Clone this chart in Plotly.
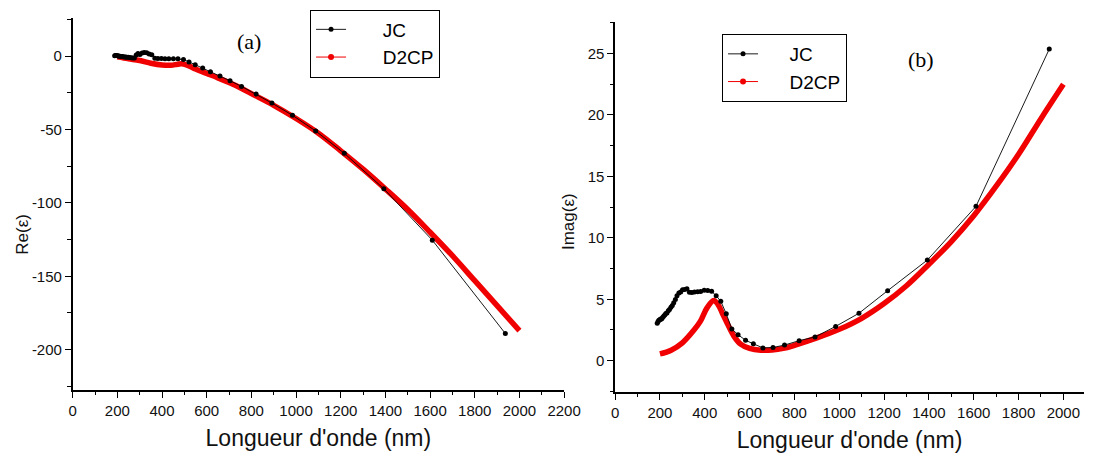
import plotly.graph_objects as go

# ---- data ----
jc_wl = [187.9, 191.6, 195.3, 199.3, 203.3, 207.3, 211.9, 216.4, 221.4, 226.2, 231.4, 237.1,
         242.6, 249.0, 255.1, 261.6, 268.9, 276.1, 284.4, 292.4, 300.9, 310.7, 320.4, 331.5,
         342.5, 354.2, 367.9, 381.5, 397.4, 413.3, 430.5, 450.9, 471.4, 495.9, 520.9, 548.6,
         582.1, 616.8, 659.5, 704.5, 756.0, 821.1, 892.0, 984.0, 1088, 1216, 1393, 1610, 1937]
jc_re = [0.3, 0.4, 0.4, 0.3, 0.2, 0.0, -0.1, -0.2, -0.3, -0.4, -0.5, -0.6,
         -0.7, -0.8, -1.0, -1.1, -1.2, -1.3, 0.8, 1.8, 1.2, 2.2, 2.5, 2.3,
         1.5, 1.0, -1.4, -1.6, -1.6, -1.7, -1.7, -1.8, -1.7, -2.3, -3.9, -5.8,
         -8.1, -10.7, -13.6, -16.8, -20.6, -25.8, -32.0, -40.3, -51.0, -66.2, -90.4, -125.4, -189.0]
jc_im = [3.04, 3.18, 3.29, 3.33, 3.40, 3.39, 3.51, 3.61, 3.71, 3.83, 3.89, 4.06,
         4.16, 4.34, 4.49, 4.72, 4.98, 5.28, 5.50, 5.60, 5.78, 5.79, 5.85, 5.57,
         5.54, 5.60, 5.61, 5.64, 5.74, 5.72, 5.65, 5.28, 4.84, 3.81, 2.58, 2.11,
         1.66, 1.37, 1.04, 1.07, 1.27, 1.63, 1.93, 2.79, 3.86, 5.70, 8.19, 12.56, 25.36]

d2_wl_re = [200, 250, 300, 350, 400, 440, 470, 490, 520, 550, 600, 650, 700, 750, 800,
            900, 1000, 1100, 1200, 1300, 1400, 1500, 1600, 1700, 1800, 1900, 2000]
d2_re = [-0.5, -1.8, -3.0, -4.8, -6.0, -6.2, -5.5, -5.2, -6.6, -8.8, -11.8, -14.8, -18.0, -21.5, -25.5,
         -33.5, -42.5, -52.5, -64.5, -77.0, -90.5, -104.5, -120.0, -136.0, -153.0, -170.0, -187.0]

d2_wl_im = [200, 250, 300, 350, 380, 410, 440, 460, 480, 500, 530, 560, 600, 650, 700, 750,
            800, 900, 1000, 1100, 1200, 1300, 1400, 1500, 1600, 1700, 1800, 1900, 2000]
d2_im = [0.55, 0.85, 1.45, 2.45, 3.2, 4.3, 4.9, 4.55, 3.8, 3.05, 2.0, 1.35, 1.0, 0.85, 0.87, 1.0,
         1.25, 1.85, 2.55, 3.45, 4.65, 6.1, 7.85, 9.7, 11.8, 14.2, 16.8, 19.7, 22.5]

x_ticks = [0, 200, 400, 600, 800, 1000, 1200, 1400, 1600, 1800, 2000, 2200]
re_ticks = [0, -50, -100, -150, -200]
im_ticks = [0, 5, 10, 15, 20, 25]

W, H = 1101, 458
RED = "rgb(240,0,0)"
SANS = "Liberation Sans, Arial, sans-serif"
SERIF = "Liberation Serif, Times New Roman, serif"
PAD_A = "\u00a0" * 6  # pushes legend text right, like the original's longer symbol
PAD_B = "\u00a0" * 5

fig = go.Figure()

# panel (a)
fig.add_trace(go.Scatter(x=d2_wl_re, y=d2_re, mode="lines", line=dict(color=RED, width=5.5, shape="spline"),
                         showlegend=False, xaxis="x", yaxis="y"))
fig.add_trace(go.Scatter(x=jc_wl, y=jc_re, mode="lines+markers", name=PAD_A + "JC",
                         line=dict(color="black", width=0.9), marker=dict(color="black", size=5),
                         xaxis="x", yaxis="y", legend="legend"))
fig.add_trace(go.Scatter(x=[None], y=[None], mode="lines+markers", name=PAD_A + "D2CP",
                         line=dict(color=RED, width=1), marker=dict(color=RED, size=6),
                         xaxis="x", yaxis="y", legend="legend"))

# panel (b)
fig.add_trace(go.Scatter(x=d2_wl_im, y=d2_im, mode="lines", line=dict(color=RED, width=5.5, shape="spline"),
                         showlegend=False, xaxis="x2", yaxis="y2"))
fig.add_trace(go.Scatter(x=jc_wl, y=jc_im, mode="lines+markers", name=PAD_B + "JC",
                         line=dict(color="black", width=0.9), marker=dict(color="black", size=5),
                         xaxis="x2", yaxis="y2", legend="legend2"))
fig.add_trace(go.Scatter(x=[None], y=[None], mode="lines+markers", name=PAD_B + "D2CP",
                         line=dict(color=RED, width=1), marker=dict(color=RED, size=6),
                         xaxis="x2", yaxis="y2", legend="legend2"))

axis_common = dict(showline=True, linecolor="black", linewidth=1.5, showgrid=False, zeroline=False,
                   ticks="outside", ticklen=6, tickwidth=1.3, tickcolor="black",
                   tickfont=dict(family=SANS, size=15, color="#111"), mirror=False)

xt = dict(title=dict(text="Longueur d'onde (nm)", font=dict(family=SANS, size=23, color="#111"), standoff=12),
          tickmode="array", tickvals=x_ticks, ticktext=[str(v) for v in x_ticks],
          minor=dict(ticks="outside", ticklen=3.5, dtick=100, tick0=0, tickcolor="black", tickwidth=1.2, showgrid=False),
          **axis_common)

fig.update_layout(
    width=W, height=H, autosize=False,
    margin=dict(l=0, r=0, t=0, b=0),
    paper_bgcolor="white", plot_bgcolor="white",
    xaxis=dict(domain=[70 / W, 571 / W], range=[0, 2200], anchor="y", **xt),
    yaxis=dict(domain=[68 / H, 440 / H], range=[-227.5, 26], anchor="x",
               tickmode="array", tickvals=re_ticks, ticktext=[str(v) for v in re_ticks],
               minor=dict(ticks="outside", ticklen=3.5, dtick=25, tick0=0, tickcolor="black", tickwidth=1.2, showgrid=False),
               **axis_common),
    xaxis2=dict(domain=[623 / W, 1.0], range=[0, 2092], anchor="y2", **xt),
    yaxis2=dict(domain=[66 / H, 436.4 / H], range=[-2.55, 27.6], anchor="x2",
                tickmode="array", tickvals=im_ticks, ticktext=[str(v) for v in im_ticks],
                minor=dict(ticks="outside", ticklen=3.5, dtick=2.5, tick0=0, tickcolor="black", tickwidth=1.2, showgrid=False),
                **axis_common),
    legend=dict(x=312 / W, y=1 - 9.5 / H, xanchor="left", yanchor="top",
                bordercolor="black", borderwidth=1, bgcolor="white",
                font=dict(family=SANS, size=19, color="black"), tracegroupgap=0),
    legend2=dict(x=732 / W, y=1 - 34 / H, xanchor="left", yanchor="top",
                 bordercolor="black", borderwidth=1, bgcolor="white",
                 font=dict(family=SANS, size=19, color="black"), tracegroupgap=0),
    annotations=[
        dict(text="(a)", x=250 / W, y=1 - 42 / H, xref="paper", yref="paper", showarrow=False,
             xanchor="center", yanchor="middle", font=dict(family=SERIF, size=22, color="black")),
        dict(text="(b)", x=935 / W, y=1 - 59 / H, xref="paper", yref="paper", showarrow=False,
             xanchor="center", yanchor="middle", font=dict(family=SERIF, size=22, color="black")),
        dict(text="Re(ε)", x=18 / W, y=1 - 234 / H, xref="paper", yref="paper", showarrow=False,
             textangle=-90, xanchor="center", yanchor="middle", font=dict(family=SANS, size=17, color="#111")),
        dict(text="Imag(ε)", x=575 / W, y=1 - 222 / H, xref="paper", yref="paper", showarrow=False,
             textangle=-90, xanchor="center", yanchor="middle", font=dict(family=SANS, size=17, color="#111")),
    ],
)

fig.write_html("out.html")
